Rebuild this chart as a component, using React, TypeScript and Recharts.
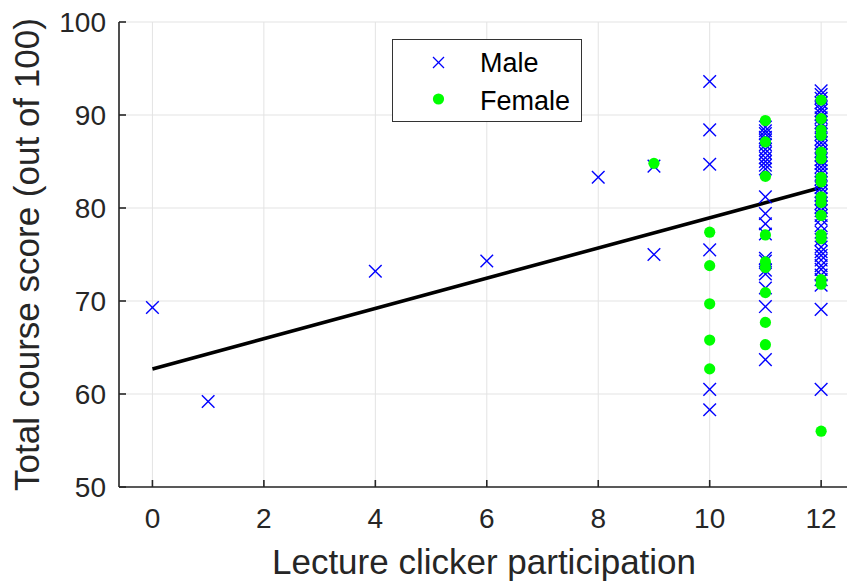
import React from "react";
import {
  ScatterChart,
  Scatter,
  XAxis,
  YAxis,
  CartesianGrid,
  ReferenceLine,
} from "recharts";

// ---- data ----
const xTicks = [0, 2, 4, 6, 8, 10, 12];
const yTicks = [50, 60, 70, 80, 90, 100];

const maleSparse = [
  { x: 0, y: 69.3 },
  { x: 1, y: 59.2 },
  { x: 4, y: 73.2 },
  { x: 6, y: 74.3 },
  { x: 8, y: 83.3 },
  { x: 9, y: 84.5 },
  { x: 9, y: 75.0 },
];
const maleAt10 = [93.6, 88.4, 84.7, 75.5, 60.5, 58.3];
const maleAt11 = [
  88.7, 88.3, 88.0, 87.6, 87.3, 86.8, 86.3, 85.9, 85.4, 85.0, 84.6, 84.2,
  81.2, 79.4, 78.3, 77.2, 74.6, 74.3, 73.3, 72.9, 71.4, 69.4, 63.7,
];
const maleAt12 = [
  92.6, 92.2, 91.8, 91.3, 90.8, 90.5, 90.1, 89.7, 89.2, 88.8, 88.3, 87.9,
  87.4, 87.0, 86.6, 86.1, 85.7, 85.2, 84.8, 84.4, 84.0, 83.6, 83.1, 82.7,
  82.2, 81.8, 81.4, 81.0, 80.5, 80.1, 79.7, 79.2, 78.8, 78.1, 77.4, 76.6,
  75.8, 75.3, 74.9, 74.4, 73.8, 73.4, 72.8, 72.3, 71.7, 69.1, 60.5,
];

const femaleSparse = [{ x: 9, y: 84.8 }];
const femaleAt10 = [77.4, 73.8, 69.7, 65.8, 62.7];
const femaleAt11 = [89.4, 87.1, 83.4, 77.1, 74.2, 73.6, 70.9, 67.7, 65.3];
const femaleAt12 = [
  91.6, 89.6, 88.4, 87.8, 86.0, 85.3, 83.3, 82.8, 81.2, 80.6, 79.2, 77.1,
  76.7, 72.3, 71.8, 56.0,
];

const fitLine = [
  { x: 0, y: 62.7 },
  { x: 12, y: 82.2 },
];

const col = (x: number, ys: number[]) => ys.map((y) => ({ x, y }));

const maleData = [
  ...maleSparse,
  ...col(10, maleAt10),
  ...col(11, maleAt11),
  ...col(12, maleAt12),
];
const femaleData = [
  ...femaleSparse,
  ...col(10, femaleAt10),
  ...col(11, femaleAt11),
  ...col(12, femaleAt12),
];

// ---- styles ----
const FONT = "'Liberation Sans', Arial, Helvetica, sans-serif";
const AXIS = "#262626";
const BLUE = "#0000ff";
const GREEN = "#00ff00";

const Cross = (props: any) => {
  const { cx, cy } = props;
  if (cx == null || cy == null) return <g />;
  const r = 6.3;
  return (
    <g stroke={BLUE} strokeWidth={1.4}>
      <line x1={cx - r} y1={cy - r} x2={cx + r} y2={cy + r} />
      <line x1={cx - r} y1={cy + r} x2={cx + r} y2={cy - r} />
    </g>
  );
};

const Dot = (props: any) => {
  const { cx, cy } = props;
  if (cx == null || cy == null) return <g />;
  return <circle cx={cx} cy={cy} r={5.6} fill={GREEN} />;
};

const tickStyle = { fontSize: 28, fill: AXIS, fontFamily: FONT };

export default function App() {
  return (
    <div
      style={{
        position: "absolute",
        left: 0,
        top: 0,
        width: 847,
        height: 584,
        overflow: "hidden",
        background: "#fff",
      }}
    >
      <ScatterChart
        width={862}
        height={584}
        margin={{ top: 22, right: 13, bottom: 0, left: 0 }}
      >
        <CartesianGrid stroke="#e3e3e3" strokeWidth={1} vertical horizontal />
        <XAxis
          xAxisId="top"
          orientation="top"
          type="number"
          dataKey="x"
          domain={[-0.6, 12.5]}
          ticks={xTicks}
          height={0}
          tickSize={-7}
          tick={() => <g />}
          axisLine={{ stroke: AXIS, strokeWidth: 1.6 }}
          tickLine={{ stroke: AXIS, strokeWidth: 1.6 }}
        />
        <XAxis
          type="number"
          dataKey="x"
          domain={[-0.6, 12.5]}
          ticks={xTicks}
          height={97}
          tickSize={-7}
          tickMargin={28}
          tick={tickStyle}
          axisLine={{ stroke: AXIS, strokeWidth: 1.6 }}
          tickLine={{ stroke: AXIS, strokeWidth: 1.6 }}
          label={{
            value: "Lecture clicker participation",
            position: "insideBottom",
            offset: 10,
            style: { fontSize: 35, fill: AXIS, fontFamily: FONT },
          }}
        />
        <YAxis
          type="number"
          dataKey="y"
          domain={[50, 100]}
          ticks={yTicks}
          width={119}
          tickSize={-7}
          tickMargin={20}
          tick={tickStyle}
          axisLine={{ stroke: AXIS, strokeWidth: 1.6 }}
          tickLine={{ stroke: AXIS, strokeWidth: 1.6 }}
          label={{
            value: "Total course score (out of 100)",
            angle: -90,
            position: "insideLeft",
            offset: 27,
            style: {
              fontSize: 35,
              fill: AXIS,
              fontFamily: FONT,
              textAnchor: "middle",
            },
          }}
        />
        <Scatter
          name="Male"
          data={maleData}
          shape={Cross}
          isAnimationActive={false}
        />
        <Scatter
          name="Female"
          data={femaleData}
          shape={Dot}
          isAnimationActive={false}
        />
        <ReferenceLine
          segment={fitLine}
          stroke="#000"
          strokeWidth={3.6}
          ifOverflow="visible"
        />
      </ScatterChart>
      <div
        style={{
          position: "absolute",
          left: 392,
          top: 39,
          width: 190,
          height: 83,
          border: "1px solid #333",
          background: "#fff",
          boxSizing: "border-box",
        }}
      >
        <svg
          width={190}
          height={83}
          style={{ position: "absolute", left: -1, top: -1 }}
        >
          <g stroke={BLUE} strokeWidth={1.3}>
            <line x1={41} y1={18} x2={52} y2={29} />
            <line x1={41} y1={29} x2={52} y2={18} />
          </g>
          <circle cx={46.5} cy={60} r={5.6} fill={GREEN} />
          <text x={88} y={33} fontSize={27} fontFamily={FONT} fill="#000">
            Male
          </text>
          <text x={88} y={71} fontSize={27} fontFamily={FONT} fill="#000">
            Female
          </text>
        </svg>
      </div>
    </div>
  );
}
